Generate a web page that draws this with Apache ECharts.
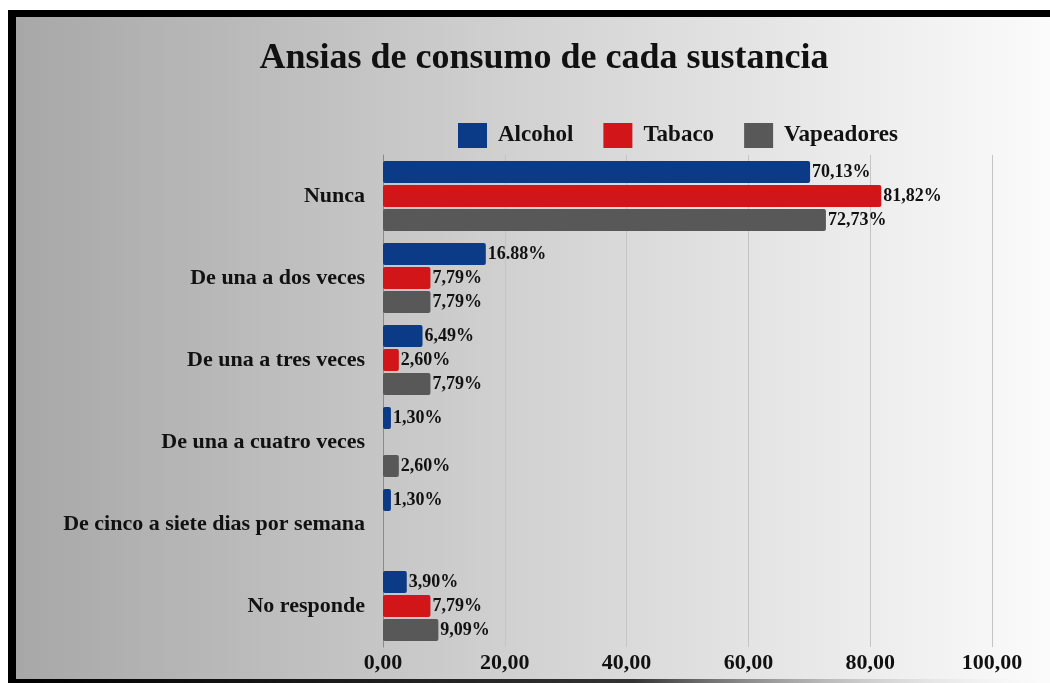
<!DOCTYPE html>
<html><head><meta charset="utf-8">
<script src="https://cdn.jsdelivr.net/npm/echarts@6/dist/echarts.min.js"></script>
<style>html,body{margin:0;padding:0;background:#fff}#c{width:1050px;height:683px}</style>
</head><body><div id="c"></div>
<script>
var categories = ['Nunca','De una a dos veces','De una a tres veces','De una a cuatro veces','De cinco a siete dias por semana','No responde'];
var alcohol = [70.13, 16.88, 6.49, 1.30, 1.30, 3.90];
var tabaco = [81.82, 7.79, 2.60, null, null, 7.79];
var vapeadores = [72.73, 7.79, 7.79, 2.60, null, 9.09];
var alcoholLabels = ['70,13%','16.88%','6,49%','1,30%','1,30%','3,90%'];
var tabacoLabels = ['81,82%','7,79%','2,60%','','','7,79%'];
var vapeadoresLabels = ['72,73%','7,79%','7,79%','2,60%','','9,09%'];
var xTicks = [0,20,40,60,80,100];

var SERIF = '"Liberation Serif","DejaVu Serif",serif';
var chart = echarts.init(document.getElementById('c'));
function mk(name, data, labels, color){
  return {
    name: name, type: 'bar', data: data, barWidth: 22, barGap: '9%',
    itemStyle: {color: color, borderRadius: 2},
    label: {show: true, position: 'right', distance: 2, color: '#111',
      fontFamily: SERIF, fontWeight: 'bold', fontSize: 18,
      formatter: function(p){ return labels[p.dataIndex]; }}
  };
}
chart.setOption({
  backgroundColor: {type:'linear', x:0, y:0, x2:1, y2:0, colorStops:[{offset:0,color:'#a6a6a6'},{offset:0.5,color:'#d2d2d2'},{offset:1,color:'#fbfbfb'}]},
  animation: false,
  title: {text: 'Ansias de consumo de cada sustancia', left: 539, top: 36, textAlign: 'center',
    textStyle: {fontFamily: SERIF, fontWeight: 'bold', fontSize: 36, color: '#111'}},
  legend: {left: 453, top: 118, itemWidth: 29, itemHeight: 25, itemGap: 30, icon: 'rect',
    textStyle: {fontFamily: SERIF, fontWeight: 'bold', fontSize: 23, color: '#111', padding:[0,0,0,6]},
    data: ['Alcohol','Tabaco','Vapeadores']},
  grid: {left: 383, right: 58, top: 155, bottom: 36, containLabel: false},
  xAxis: {type: 'value', min: 0, max: 100, interval: 20,
    axisLine: {show: false}, axisTick: {show: false},
    splitLine: {lineStyle: {color: '#c4c4c4', width: 1}},
    axisLabel: {margin: 5, fontFamily: SERIF, fontWeight: 'bold', fontSize: 22, color: '#111',
      formatter: function(v){ return xTicks.indexOf(v) >= 0 ? v.toFixed(2).replace('.', ',') : ''; }}},
  yAxis: {type: 'category', data: categories, inverse: true,
    axisLine: {show: true, lineStyle: {color: '#8a8a8a'}}, axisTick: {show: false},
    axisLabel: {margin: 18, fontFamily: SERIF, fontWeight: 'bold', fontSize: 22, color: '#111'}},
  series: [mk('Alcohol', alcohol, alcoholLabels, '#0b3a86'), mk('Tabaco', tabaco, tabacoLabels, '#d11518'), mk('Vapeadores', vapeadores, vapeadoresLabels, '#585858')],
  graphic: [
    {type:'rect', shape:{x:0,y:0,width:1050,height:10}, style:{fill:'#fff'}, z:100},
    {type:'rect', shape:{x:0,y:0,width:8,height:683}, style:{fill:'#fff'}, z:100},
    {type:'rect', shape:{x:8,y:10,width:1042,height:7}, style:{fill:'#000'}, z:101},
    {type:'rect', shape:{x:8,y:10,width:8,height:673}, style:{fill:'#000'}, z:101},
    {type:'rect', shape:{x:8,y:679,width:1042,height:4}, style:{fill:{type:'linear',x:0,y:0,x2:1,y2:0,colorStops:[{offset:0,color:'#000'},{offset:0.6,color:'#333'},{offset:1,color:'rgba(255,255,255,0)'}]}}, z:101}
  ]
});
</script></body></html>
